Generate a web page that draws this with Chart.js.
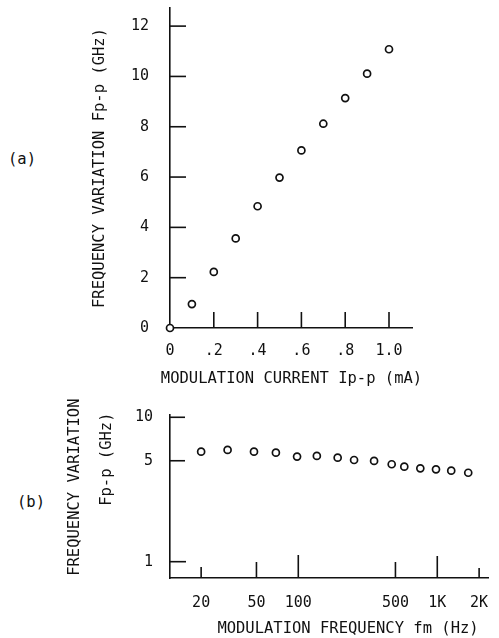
<!DOCTYPE html>
<html>
<head>
<meta charset="utf-8">
<script src="https://cdn.jsdelivr.net/npm/chart.js@4.4.1/dist/chart.umd.min.js"></script>
<style>
  html, body { margin: 0; padding: 0; background: #fff; }
  body { width: 499px; height: 638px; position: relative; overflow: hidden; font-family: "DejaVu Sans Mono", monospace; }
  .wrap { position: absolute; left: 0; }
  .panel { position: absolute; font-size: 15.5px; color: #111; line-height: 1; white-space: pre; }
</style>
</head>
<body>
<div class="panel" style="left:8px; top:152px;">(a)</div>
<div class="panel" style="left:17px; top:495px;">(b)</div>
<div class="wrap" style="top:0; width:499px; height:400px;"><canvas id="chartA" width="499" height="400"></canvas></div>
<div class="wrap" style="top:390px; width:499px; height:248px;"><canvas id="chartB" width="499" height="248"></canvas></div>
<div class="panel" id="xTitleA" style="left:0; width:583px; top:369px; line-height:18.6px; text-align:center;"></div>
<script>
// ---- Panel (a) data ----
const currentA = [0, 0.1, 0.2, 0.3, 0.4, 0.5, 0.6, 0.7, 0.8, 0.9, 1.0];
const freqA = [0, 0.95, 2.23, 3.56, 4.84, 5.98, 7.06, 8.12, 9.14, 10.11, 11.08];
const xTicksA = [0, 0.2, 0.4, 0.6, 0.8, 1.0];
const xLabelsA = ["0", ".2", ".4", ".6", ".8", "1.0"];
const yTicksA = [0, 2, 4, 6, 8, 10, 12];
const yLabelsA = ["0", "2", "4", "6", "8", "10", "12"];
const xTitleA = "MODULATION CURRENT Ip-p (mA)";
const yTitleA = "FREQUENCY VARIATION Fp-p (GHz)";

// ---- Panel (b) data ----
const modFreqB = [20, 31, 48, 69, 98, 136, 192, 252, 351, 470, 579, 755, 979, 1260, 1670];
const freqB = [5.78, 5.94, 5.78, 5.69, 5.34, 5.40, 5.25, 5.06, 4.99, 4.73, 4.55, 4.43, 4.36, 4.27, 4.13];
const xTicksB = [20, 50, 100, 500, 1000, 2000];
const xLabelsB = ["20", "50", "100", "500", "1K", "2K"];
const yTicksB = [1, 5, 10];
const yLabelsB = ["1", "5", "10"];
const xTitleB = "MODULATION FREQUENCY fm (Hz) ";
const yTitleB = ["  FREQUENCY VARIATION", "        Fp-p (GHz)"];

document.getElementById('xTitleA').textContent = xTitleA;

Chart.defaults.font.family = "'DejaVu Sans Mono', monospace";
Chart.defaults.color = "#111";

const inwardTicks = {
  id: 'inwardTicks',
  afterDraw(chart, args, opts) {
    const ctx = chart.ctx;
    const area = chart.chartArea;
    ctx.save();
    ctx.strokeStyle = '#111';
    ctx.lineWidth = 1.6;
    (opts.marks || []).forEach(m => {
      const scale = chart.scales[m.axis];
      m.values.forEach((v, i) => {
        const len = m.lens[i];
        const p = scale.getPixelForValue(v);
        ctx.beginPath();
        if (m.axis === 'x') {
          ctx.moveTo(p, area.bottom);
          ctx.lineTo(p, area.bottom - len);
        } else {
          ctx.moveTo(area.left, p);
          ctx.lineTo(area.left + len, p);
        }
        ctx.stroke();
      });
    });
    ctx.restore();
  }
};

function zeroPad(s) { s.paddingLeft = 0; s.paddingRight = 0; s.paddingTop = 0; s.paddingBottom = 0; }
function setTicks(values) { return s => { s.ticks = values.map(v => ({ value: v })); }; }

const pointStyle = {
  pointRadius: 3.5,
  pointBorderWidth: 1.7,
  pointBorderColor: '#111',
  pointBackgroundColor: '#fff',
  borderColor: '#111',
  backgroundColor: '#fff',
  showLine: false,
  clip: false
};

new Chart(document.getElementById('chartA'), {
  type: 'scatter',
  data: {
    datasets: [Object.assign({
      label: 'Fp-p',
      data: currentA.map((x, i) => ({ x: x, y: freqA[i] }))
    }, pointStyle)]
  },
  options: {
    responsive: false,
    animation: false,
    devicePixelRatio: 1,
    layout: { padding: { left: 0, top: 8, right: 87, bottom: 0 } },
    plugins: {
      legend: { display: false },
      tooltip: { enabled: false },
      inwardTicks: {
        marks: [
          { axis: 'x', values: [0.2, 0.4, 0.6, 0.8, 1.0], lens: [16, 16, 16, 16, 16] },
          { axis: 'y', values: [2, 4, 6, 8, 10, 12], lens: [16, 16, 16, 16, 16, 16] }
        ]
      }
    },
    scales: {
      x: {
        type: 'linear',
        min: 0, max: 1.105,
        afterBuildTicks: setTicks(xTicksA),
        afterFit: s => { s.height = 72; zeroPad(s); },
        grid: { display: false, drawTicks: false, tickLength: 0 },
        border: { display: true, color: '#111', width: 1.6 },
        ticks: { padding: 14, font: { size: 15 }, color: '#111', maxRotation: 0, autoSkip: false,
                 callback: (v, i) => xLabelsA[i] },
        title: { display: false, text: xTitleA }
      },
      y: {
        type: 'linear',
        min: 0, max: 12.72,
        afterBuildTicks: setTicks(yTicksA),
        afterFit: s => { s.width = 170; zeroPad(s); },
        grid: { display: false, drawTicks: false, tickLength: 0 },
        border: { display: true, color: '#111', width: 1.6 },
        ticks: { padding: 21, font: { size: 15 }, color: '#111', autoSkip: false,
                 callback: (v, i) => yLabelsA[i] },
        title: { display: true, text: yTitleA, color: '#111',
                 font: { size: 15.5 }, padding: { top: 90.7, bottom: 0 } }
      }
    }
  },
  plugins: [inwardTicks]
});

new Chart(document.getElementById('chartB'), {
  type: 'scatter',
  data: {
    datasets: [Object.assign({
      label: 'Fp-p',
      data: modFreqB.map((x, i) => ({ x: x, y: freqB[i] }))
    }, pointStyle)]
  },
  options: {
    responsive: false,
    animation: false,
    devicePixelRatio: 1,
    layout: { padding: { left: 0, top: 25, right: 11, bottom: 0 } },
    plugins: {
      legend: { display: false },
      tooltip: { enabled: false },
      inwardTicks: {
        marks: [
          { axis: 'x', values: xTicksB, lens: [11, 16, 23, 16, 22, 10] },
          { axis: 'y', values: yTicksB, lens: [16, 15, 15] }
        ]
      }
    },
    scales: {
      x: {
        type: 'logarithmic',
        min: 11.94, max: 2317,
        afterBuildTicks: setTicks(xTicksB),
        afterFit: s => { s.height = 60; zeroPad(s); },
        grid: { display: false, drawTicks: false, tickLength: 0 },
        border: { display: true, color: '#111', width: 1.6 },
        ticks: { padding: 16, font: { size: 15 }, color: '#111', maxRotation: 0, autoSkip: false,
                 callback: (v, i) => xLabelsB[i] },
        title: { display: true, align: 'end', text: xTitleB, color: '#111',
                 font: { size: 15.5 }, padding: { top: 0, bottom: 0 } }
      },
      y: {
        type: 'logarithmic',
        min: 0.771, max: 10.37,
        afterBuildTicks: setTicks(yTicksB),
        afterFit: s => { s.width = 170; zeroPad(s); },
        grid: { display: false, drawTicks: false, tickLength: 0 },
        border: { display: true, color: '#111', width: 1.6 },
        ticks: { padding: 17, font: { size: 15 }, color: '#111', autoSkip: false,
                 callback: (v, i) => yLabelsB[i] },
        title: { display: true, text: yTitleB, color: '#111',
                 font: { size: 15.5, lineHeight: '32px' }, padding: { top: 59, bottom: 0 } }
      }
    }
  },
  plugins: [inwardTicks]
});
</script>
</body>
</html>
